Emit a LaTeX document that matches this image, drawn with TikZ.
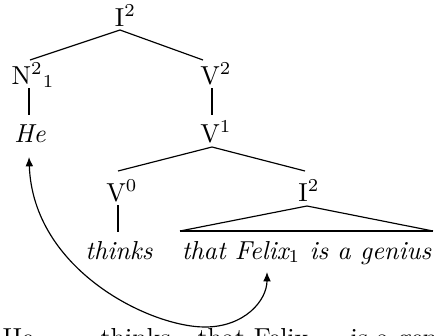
\documentclass[tikz,border=0pt]{standalone}
\usetikzlibrary{arrows.meta}
\begin{document}
\begin{tikzpicture}[x=0.3846pt,y=-0.3846pt,
  lab/.style={anchor=base,inner sep=0pt,font=\fontsize{10}{12}\selectfont},
  word/.style={anchor=base west,inner sep=0pt,font=\fontsize{10}{12}\selectfont},
  branch/.style={line width=0.45pt},
  stem/.style={line width=0.75pt},
  base/.style={line width=0.8pt},
  link/.style={line width=0.45pt,{Latex[length=3.6pt,width=3pt]}-{Latex[length=3.6pt,width=3pt]}}]
\useasboundingbox (0,0) rectangle (434,335);
\clip (0,0) rectangle (434,335);
% nodes
\node[lab] (i2top) at (125.5,26) {I$^2$};
\node[lab] (n2) at (33,84) {N$^2{}_1$};
\node[lab] (v2) at (216,84) {V$^2$};
\node[lab] (he) at (30,142) {\itshape He};
\node[lab] (v1) at (216,142) {V$^1$};
\node[lab] (v0) at (122,201) {V$^0$};
\node[lab] (i2low) at (309,201) {I$^2$};
\node[lab] (thinks) at (119,259) {\itshape thinks};
\node[lab] (clause) at (306.5,259) {\itshape that Felix$_1$ is a genius};
% bottom sentence (clipped)
\node[word] (s1) at (2,346) {He};
\node[word] (s2) at (100,346) {thinks};
\node[word] (s3) at (197,346) {that Felix};
\node[word] (s4) at (350,346) {is a genius};
% connector ends
\coordinate (a0) at (120,30);
\coordinate (a1) at (30,60);
\coordinate (a2) at (203,60);
\coordinate (n2b) at (29,88);
\coordinate (het) at (29,115);
\coordinate (v2b) at (212,88);
\coordinate (v1t) at (212,115);
\coordinate (v1b) at (212,147);
\coordinate (v0t) at (118,171);
\coordinate (i2t) at (305,171);
\coordinate (v0b) at (118,205);
\coordinate (thinkst) at (118,232);
\coordinate (apex) at (307,206);
\coordinate (bl) at (180,231);
\coordinate (br) at (433,231);
\coordinate (heend) at (29,157);
\coordinate (low) at (205,327);
\coordinate (felixend) at (267,272);
% tree
\draw[branch] (a1) -- (a0) -- (a2);
\draw[stem] (n2b) -- (het);
\draw[stem] (v2b) -- (v1t);
\draw[branch] (v0t) -- (v1b) -- (i2t);
\draw[stem] (v0b) -- (thinkst);
\draw[branch] (bl) -- (apex) -- (br);
\draw[base] (bl) -- (br);
% movement arrow
\draw[link] (heend) .. controls (33,270) and (150,327) .. (low)
  .. controls (245,327) and (267,300) .. (felixend);
\end{tikzpicture}
\end{document}
